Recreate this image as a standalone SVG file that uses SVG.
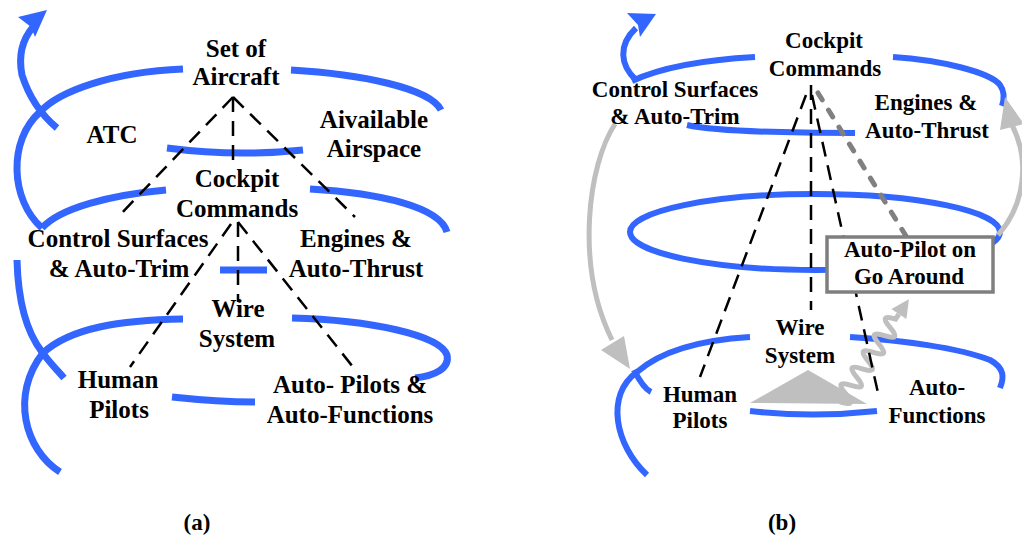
<svg xmlns="http://www.w3.org/2000/svg" width="1022" height="541" viewBox="0 0 1022 541">
<style>
.b{fill:none;stroke:#3366ff;stroke-width:7;stroke-linecap:butt}
.bb{fill:none;stroke:#3366ff;stroke-width:6}
.ah{fill:#3366ff}
.g{fill:none;stroke:#bfbfbf;stroke-width:5}
.gh{fill:#bfbfbf}
.d{fill:none;stroke:#000;stroke-width:2.5;stroke-dasharray:15 9}
.gd{fill:none;stroke:#808080;stroke-width:5;stroke-dasharray:8 12;stroke-linecap:round}
text{font-family:"Liberation Serif","Times New Roman",serif;font-weight:bold;fill:#000;text-anchor:middle}
.ta{font-size:25px}
.tb{font-size:23px}
</style>
<rect width="1022" height="541" fill="#fff"/>
<g id="connectors">
  <!-- panel a spiral -->
  <path class="b" d="M42,228 C10,200 8,140 40,112 C58,92 110,72 183,69"/>
  <path class="b" d="M57,128 C45,118 30,100 22,75 C18,55 22,40 33,27"/>
  <polygon class="ah" points="18,17 47,10 35,37 31,27"/>
  <path class="b" d="M291,70 C360,74 430,88 441,110"/>
  <path class="b" d="M167,148 Q235,157 303,150"/>
  <path class="b" d="M42,228 C60,208 110,195 166,190"/>
  <path class="b" d="M310,189 C380,193 440,207 447,232"/>
  <path class="b" d="M220,270 L267,270"/>
  <path class="b" d="M17,260 C18,300 25,330 42,352 C50,363 57,370 64,378"/>
  <path class="b" d="M60,472 C25,450 10,395 43,353 C70,328 120,320 183,319" stroke-linecap="round"/>
  <path class="b" d="M292,318 C370,320 440,335 447,355 C450,368 435,376 415,378"/>
  <path class="b" d="M172,397 C200,400 230,402 255,402"/>
  <!-- panel a dashed -->
  <path class="d" d="M233,97 L117,218"/>
  <path class="d" d="M233,97 L233,166"/>
  <path class="d" d="M233,97 L355,217"/>
  <path class="d" d="M231,224 L130,367"/>
  <path class="d" d="M238,222 L238,302"/>
  <path class="d" d="M238,222 L353,367"/>

  <!-- panel b spiral -->
  <path class="bb" d="M636,80 C620,65 618,45 636,28"/>
  <polygon class="ah" points="627,13 656,14 640,37 638,25"/>
  <path class="bb" d="M632,81 C660,68 700,60 755,57"/>
  <path class="bb" d="M893,57 C940,60 990,72 1000,85 C1005,92 1004,100 1002,106"/>
  <path class="bb" d="M687,125 C710,130 760,133 855,133"/>
  <ellipse class="bb" cx="815" cy="232" rx="185" ry="38"/>
  <path class="bb" d="M647,475 C615,445 605,395 637,372 C660,352 700,340 750,337"/>
  <path class="bb" d="M634,370 C640,382 645,389 651,392"/>
  <path class="bb" d="M850,337 C900,340 960,348 990,360 C1005,368 1004,378 1000,388"/>
  <path class="bb" d="M750,411 Q813,418 877,411"/>
  <!-- gray arrows -->
  <path class="g" d="M615,124 C588,165 575,265 612,340"/>
  <polygon class="gh" points="601,350 630,369 624,336"/>
  <path class="g" d="M998,235 C1025,205 1030,160 1012,125"/>
  <polygon class="gh" points="1000,130 1005,97 1024,124"/>
  <polygon class="gh" points="808,370 750,403 867,404"/>
  <path class="g" stroke-width="6" d="M840,402 Q857.7,407.9 845.6,393.7 T851.1,385.4 T856.7,377.1 T862.2,368.8 T867.8,360.6 T873.4,352.3 T878.9,344.0 T884.5,335.7 T890.0,327.4 T895.6,319.1 L898.9,314.1"/>
  <polygon class="gh" points="908.9,299.2 906.4,319.1 891.4,309.1"/>
  <!-- panel b dashed -->
  <path class="d" d="M806,95 L700,377"/>
  <path class="d" d="M811,85 L811,310"/>
  <path class="d" d="M812,95 L878,393"/>
  <path class="gd" d="M818,93 L906,236"/>
</g>

<g id="node-set-of-aircraft"><text class="ta" x="236" y="57">Set of</text><text class="ta" x="236" y="85">Aircraft</text></g>
<g id="node-atc"><text class="ta" x="112" y="143">ATC</text></g>
<g id="node-airspace"><text class="ta" x="374" y="128">Aivailable</text><text class="ta" x="374" y="157">Airspace</text></g>
<g id="node-cockpit-a"><text class="ta" x="237" y="187">Cockpit</text><text class="ta" x="237" y="217">Commands</text></g>
<g id="node-control-a"><text class="ta" x="118" y="247">Control Surfaces</text><text class="ta" x="119" y="277">&amp; Auto-Trim</text></g>
<g id="node-engines-a"><text class="ta" x="356" y="247">Engines &amp;</text><text class="ta" x="356" y="277">Auto-Thrust</text></g>
<g id="node-wire-a"><text class="ta" x="238" y="317">Wire</text><text class="ta" x="237" y="347">System</text></g>
<g id="node-human-a"><text class="ta" x="118" y="388">Human</text><text class="ta" x="119" y="418">Pilots</text></g>
<g id="node-auto-a"><text class="ta" x="350" y="393">Auto- Pilots &amp;</text><text class="ta" x="350" y="423">Auto-Functions</text></g>
<g id="label-a"><text class="tb" x="197" y="530">(a)</text></g>

<g id="node-cockpit-b"><text class="tb" x="824" y="48">Cockpit</text><text class="tb" x="825" y="76">Commands</text></g>
<g id="node-control-b"><text class="tb" x="675" y="97">Control Surfaces</text><text class="tb" x="675" y="124">&amp; Auto-Trim</text></g>
<g id="node-engines-b"><text class="tb" x="926" y="110">Engines &amp;</text><text class="tb" x="927" y="138">Auto-Thrust</text></g>
<g id="node-autopilot-b"><rect x="827" y="237" width="166" height="55" fill="#fff" stroke="#7f7f7f" stroke-width="3.5"/><text class="tb" x="910" y="257">Auto-Pilot on</text><text class="tb" x="909" y="284">Go Around</text></g>
<g id="node-wire-b"><text class="tb" x="800" y="335">Wire</text><text class="tb" x="800" y="363">System</text></g>
<g id="node-human-b"><text class="tb" x="700" y="402">Human</text><text class="tb" x="700" y="428">Pilots</text></g>
<g id="node-auto-b"><text class="tb" x="937" y="395">Auto-</text><text class="tb" x="937" y="423">Functions</text></g>
<g id="label-b"><text class="tb" x="782" y="530">(b)</text></g>
</svg>
